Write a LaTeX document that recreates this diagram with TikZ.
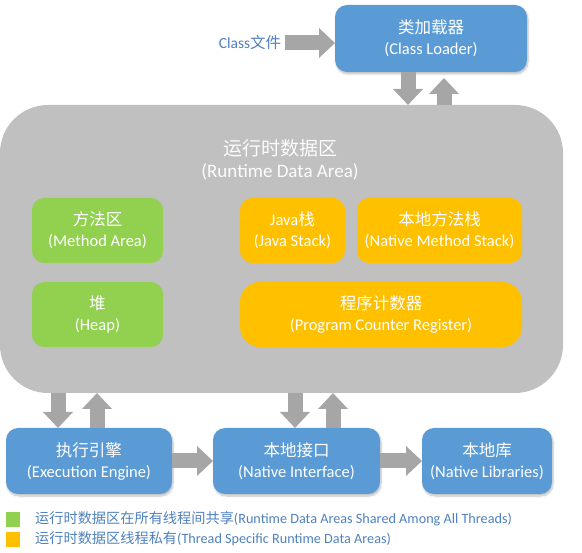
\documentclass[tikz,border=0pt]{standalone}
\usepackage{fontspec}
\setmainfont{Carlito}
\newfontfamily\cjkfont{Noto Sans CJK SC}
\newcommand{\zh}[1]{{\cjkfont #1}}
\usetikzlibrary{arrows.meta,shadows.blur}
\definecolor{boxblue}{HTML}{5B9BD5}
\definecolor{boxgreen}{HTML}{92D050}
\definecolor{boxorange}{HTML}{FFC000}
\definecolor{areagray}{HTML}{C0C0C0}
\definecolor{arrowgray}{HTML}{A6A6A6}
\definecolor{labelblue}{HTML}{4F81BD}
\tikzset{
  box/.style={rounded corners=12pt, inner sep=0pt, outer sep=0pt, text=white,
    align=center, font=\fontsize{16.5}{21}\selectfont},
  bluebox/.style={box, fill=boxblue,
    blur shadow={shadow xshift=1pt, shadow yshift=-2pt, shadow opacity=25, shadow blur steps=6}},
  greenbox/.style={box, fill=boxgreen},
  orangebox/.style={box, fill=boxorange},
  areabox/.style={rounded corners=48pt, inner sep=0pt, outer sep=0pt, fill=areagray},
  areatitle/.style={inner sep=0pt, text=white!95!areagray, align=center, font=\fontsize{19}{22}\selectfont},
  blockarrow/.style={color=arrowgray, line width=15pt, -{Triangle[length=16pt,width=29pt]}},
  legendsq/.style={inner sep=0pt, outer sep=0pt, minimum width=14pt, minimum height=15pt},
  legendtext/.style={inner sep=0pt, anchor=west, text=labelblue, font=\fontsize{14.2}{16}\selectfont},
  filelabel/.style={inner sep=0pt, text=labelblue, font=\fontsize{15.5}{18}\selectfont}
}
\begin{document}
\begin{tikzpicture}[x=1pt,y=-1pt]
\useasboundingbox (0,0) rectangle (582,553);
% runtime data area
\node[areabox, minimum width=563pt, minimum height=288pt] (rda) at (281.5,249) {};
\node[areatitle] (rdat) at (280,160) {\zh{运行时数据区}\\(Runtime Data Area)};
% class loader
\node[bluebox, minimum width=192pt, minimum height=67pt] (cl) at (431,38.5) {\zh{类加载器}\\(Class Loader)};
\node[filelabel] (cf) at (250,43) {Class\zh{文件}};
% inner areas
\node[greenbox, minimum width=131pt, minimum height=65pt] (ma) at (97.5,230.5) {\zh{方法区}\\(Method Area)};
\node[greenbox, minimum width=131pt, minimum height=65pt] (heap) at (97.5,314.5) {\zh{堆}\\(Heap)};
\node[orangebox, minimum width=105pt, minimum height=65pt] (js) at (292.5,230.5) {Java\zh{栈}\\(Java Stack)};
\node[orangebox, minimum width=165pt, minimum height=65pt] (ns) at (439.5,230.5) {\zh{本地方法栈}\\(Native Method Stack)};
\node[orangebox, rounded corners=20pt, minimum width=282pt, minimum height=65pt] (pc) at (381,314.5) {\zh{程序计数器}\\(Program Counter Register)};
% bottom row
\node[bluebox, minimum width=166pt, minimum height=66pt] (ee) at (89,461) {\zh{执行引擎}\\(Execution Engine)};
\node[bluebox, minimum width=167pt, minimum height=66pt] (ni) at (296.5,461) {\zh{本地接口}\\(Native Interface)};
\node[bluebox, minimum width=130pt, minimum height=66pt] (nl) at (487,461) {\zh{本地库}\\(Native Libraries)};
% arrows
\draw[blockarrow] (cf.east) ++(4,0) coordinate (cfa) -- (cfa -| cl.west);
\draw[blockarrow] ([xshift=-23pt]cl.south) -- ([xshift=-23pt]cl.south |- rda.north);
\draw[blockarrow] ([xshift=13pt]cl.south |- rda.north) -- ([xshift=13pt,yshift=-6pt]cl.south);
\draw[blockarrow] ([xshift=-31pt]ee.north |- rda.south) -- ([xshift=-31pt]ee.north);
\draw[blockarrow] ([xshift=8pt]ee.north) -- ([xshift=8pt]ee.north |- rda.south);
\draw[blockarrow] ([xshift=-1.5pt]ni.north |- rda.south) -- ([xshift=-1.5pt]ni.north);
\draw[blockarrow] ([xshift=36.5pt]ni.north) -- ([xshift=36.5pt]ni.north |- rda.south);
\draw[blockarrow] (ee.east) -- (ni.west);
\draw[blockarrow] (ni.east) -- (nl.west);
% legend
\node[legendsq, fill=boxgreen] (lg1) at (13,519.5) {};
\node[legendsq, fill=boxorange] (lg2) at (13,539.5) {};
\node[legendtext] (lt1) at (35,519) {\zh{运行时数据区在所有线程间共享}(Runtime Data Areas Shared Among All Threads)};
\node[legendtext] (lt2) at (35,539) {\zh{运行时数据区线程私有}(Thread Specific Runtime Data Areas)};
\end{tikzpicture}
\end{document}
